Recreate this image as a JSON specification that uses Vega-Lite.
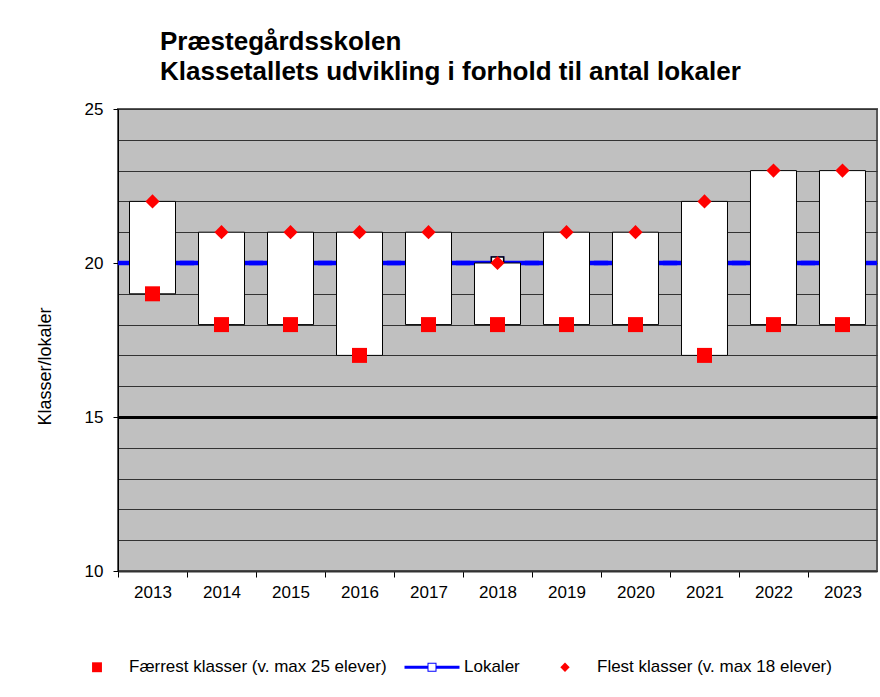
{
  "$schema": "https://vega.github.io/schema/vega-lite/v6.json",
  "width": 759,
  "height": 462,
  "autosize": {"type": "none"},
  "padding": {"left": 118, "top": 109, "right": 3, "bottom": 126},
  "background": "white",
  "datasets": {
    "ranges": [
      {"year": "2013", "faerrest": 19, "flest": 22},
      {"year": "2014", "faerrest": 18, "flest": 21},
      {"year": "2015", "faerrest": 18, "flest": 21},
      {"year": "2016", "faerrest": 17, "flest": 21},
      {"year": "2017", "faerrest": 18, "flest": 21},
      {"year": "2018", "faerrest": 18, "flest": 20},
      {"year": "2019", "faerrest": 18, "flest": 21},
      {"year": "2020", "faerrest": 18, "flest": 21},
      {"year": "2021", "faerrest": 17, "flest": 22},
      {"year": "2022", "faerrest": 18, "flest": 23},
      {"year": "2023", "faerrest": 18, "flest": 23}
    ],
    "points": [
      {"year": "2013", "series": "Færrest klasser (v. max 25 elever)", "value": 19},
      {"year": "2014", "series": "Færrest klasser (v. max 25 elever)", "value": 18},
      {"year": "2015", "series": "Færrest klasser (v. max 25 elever)", "value": 18},
      {"year": "2016", "series": "Færrest klasser (v. max 25 elever)", "value": 17},
      {"year": "2017", "series": "Færrest klasser (v. max 25 elever)", "value": 18},
      {"year": "2018", "series": "Færrest klasser (v. max 25 elever)", "value": 18},
      {"year": "2019", "series": "Færrest klasser (v. max 25 elever)", "value": 18},
      {"year": "2020", "series": "Færrest klasser (v. max 25 elever)", "value": 18},
      {"year": "2021", "series": "Færrest klasser (v. max 25 elever)", "value": 17},
      {"year": "2022", "series": "Færrest klasser (v. max 25 elever)", "value": 18},
      {"year": "2023", "series": "Færrest klasser (v. max 25 elever)", "value": 18},
      {"year": "2013", "series": "Lokaler", "value": 20},
      {"year": "2014", "series": "Lokaler", "value": 20},
      {"year": "2015", "series": "Lokaler", "value": 20},
      {"year": "2016", "series": "Lokaler", "value": 20},
      {"year": "2017", "series": "Lokaler", "value": 20},
      {"year": "2018", "series": "Lokaler", "value": 20},
      {"year": "2019", "series": "Lokaler", "value": 20},
      {"year": "2020", "series": "Lokaler", "value": 20},
      {"year": "2021", "series": "Lokaler", "value": 20},
      {"year": "2022", "series": "Lokaler", "value": 20},
      {"year": "2023", "series": "Lokaler", "value": 20},
      {"year": "2013", "series": "Flest klasser (v. max 18 elever)", "value": 22},
      {"year": "2014", "series": "Flest klasser (v. max 18 elever)", "value": 21},
      {"year": "2015", "series": "Flest klasser (v. max 18 elever)", "value": 21},
      {"year": "2016", "series": "Flest klasser (v. max 18 elever)", "value": 21},
      {"year": "2017", "series": "Flest klasser (v. max 18 elever)", "value": 21},
      {"year": "2018", "series": "Flest klasser (v. max 18 elever)", "value": 20},
      {"year": "2019", "series": "Flest klasser (v. max 18 elever)", "value": 21},
      {"year": "2020", "series": "Flest klasser (v. max 18 elever)", "value": 21},
      {"year": "2021", "series": "Flest klasser (v. max 18 elever)", "value": 22},
      {"year": "2022", "series": "Flest klasser (v. max 18 elever)", "value": 23},
      {"year": "2023", "series": "Flest klasser (v. max 18 elever)", "value": 23}
    ]
  },
  "title": {
    "text": ["Præstegårdsskolen", "Klassetallets udvikling i forhold til antal lokaler"],
    "anchor": "start",
    "frame": "group",
    "dx": 42,
    "font": "Liberation Sans",
    "fontSize": 26,
    "fontWeight": "bold",
    "lineHeight": 30,
    "offset": 15,
    "color": "#000000"
  },
  "encoding": {
    "x": {
      "field": "year",
      "type": "ordinal",
      "scale": {"paddingInner": 0.3333, "paddingOuter": 0.1667},
      "axis": {
        "title": null,
        "labelAngle": 0,
        "labelFontSize": 17,
        "labelPadding": 7,
        "tickOffset": -34.5,
        "labelOffset": 34.5,
        "tickSize": 6,
        "tickColor": "#000000",
        "domainColor": "#333333",
        "domainWidth": 2,
        "grid": false
      }
    }
  },
  "layer": [
    {
      "data": {"name": "points"},
      "transform": [{"filter": "datum.series === 'Lokaler'"}],
      "mark": {"type": "point", "filled": true, "size": 6944, "opacity": 1, "strokeWidth": 0, "clip": true},
      "encoding": {
        "y": {
          "field": "value",
          "type": "quantitative",
          "title": "Klasser/lokaler",
          "scale": {"domain": [10, 25], "nice": false, "zero": false},
          "axis": {
            "values": [10, 11, 12, 13, 14, 15, 16, 17, 18, 19, 20, 21, 22, 23, 24, 25],
            "grid": true,
            "gridColor": {"condition": {"test": "datum.value === 15", "value": "#000000"}, "value": "#333333"},
            "gridWidth": {"condition": {"test": "datum.value === 15", "value": 3}, "value": 1},
            "tickOpacity": {"condition": {"test": "datum.value % 5 === 0", "value": 1}, "value": 0},
            "labelExpr": "datum.value % 5 === 0 ? datum.label : ''",
            "labelOverlap": false,
            "labelFontSize": 17,
            "labelPadding": 10,
            "tickSize": 5,
            "tickColor": "#000000",
            "domainColor": "#000000",
            "titleFontSize": 18,
            "titleFontWeight": "normal",
            "titleAngle": -90,
            "titleAlign": "center",
            "titleBaseline": "middle",
            "titleX": -73,
            "titleY": 257
          }
        },
        "shape": {
          "field": "series",
          "type": "nominal",
          "scale": {
            "domain": ["Færrest klasser (v. max 25 elever)", "Lokaler", "Flest klasser (v. max 18 elever)"],
            "range": [
              "M-0.18,-0.18H0.18V0.18H-0.18Z",
              "M-1,-0.055H-0.164V0.055H-1Z M0.164,-0.055H1V0.055H0.164Z M-0.164,-0.164H0.164V0.164H-0.164Z M-0.127,-0.127V0.127H0.127V-0.127Z",
              "M0,-0.17L0.17,0L0,0.17L-0.17,0Z"
            ]
          },
          "legend": {"title": null}
        },
        "fill": {
          "field": "series",
          "type": "nominal",
          "scale": {
            "domain": ["Færrest klasser (v. max 25 elever)", "Lokaler", "Flest klasser (v. max 18 elever)"],
            "range": ["#FF0000", "#0000FF", "#FF0000"]
          },
          "legend": {"title": null}
        }
      }
    },
    {
      "data": {"name": "points"},
      "transform": [{"filter": "datum.series === 'Lokaler'"}],
      "mark": {"type": "point", "shape": "square", "filled": true, "fill": "#FFFFFF", "stroke": "#000000", "strokeWidth": 1.5, "size": 150, "opacity": 1},
      "encoding": {
        "y": {
          "field": "value",
          "type": "quantitative",
          "title": "Klasser/lokaler",
          "axis": {
            "values": [10, 11, 12, 13, 14, 15, 16, 17, 18, 19, 20, 21, 22, 23, 24, 25],
            "grid": true,
            "gridColor": {"condition": {"test": "datum.value === 15", "value": "#000000"}, "value": "#333333"},
            "gridWidth": {"condition": {"test": "datum.value === 15", "value": 3}, "value": 1},
            "tickOpacity": {"condition": {"test": "datum.value % 5 === 0", "value": 1}, "value": 0},
            "labelExpr": "datum.value % 5 === 0 ? datum.label : ''",
            "labelOverlap": false,
            "labelFontSize": 17,
            "labelPadding": 10,
            "tickSize": 5,
            "tickColor": "#000000",
            "domainColor": "#000000",
            "titleFontSize": 18,
            "titleFontWeight": "normal",
            "titleAngle": -90,
            "titleAlign": "center",
            "titleBaseline": "middle",
            "titleX": -73,
            "titleY": 257
          }
        }
      }
    },
    {
      "data": {"name": "ranges"},
      "mark": {"type": "bar", "fill": "#FFFFFF", "stroke": "#000000", "strokeWidth": 1},
      "encoding": {
        "y": {
          "field": "faerrest",
          "type": "quantitative",
          "title": "Klasser/lokaler",
          "axis": {
            "values": [10, 11, 12, 13, 14, 15, 16, 17, 18, 19, 20, 21, 22, 23, 24, 25],
            "grid": true,
            "gridColor": {"condition": {"test": "datum.value === 15", "value": "#000000"}, "value": "#333333"},
            "gridWidth": {"condition": {"test": "datum.value === 15", "value": 3}, "value": 1},
            "tickOpacity": {"condition": {"test": "datum.value % 5 === 0", "value": 1}, "value": 0},
            "labelExpr": "datum.value % 5 === 0 ? datum.label : ''",
            "labelOverlap": false,
            "labelFontSize": 17,
            "labelPadding": 10,
            "tickSize": 5,
            "tickColor": "#000000",
            "domainColor": "#000000",
            "titleFontSize": 18,
            "titleFontWeight": "normal",
            "titleAngle": -90,
            "titleAlign": "center",
            "titleBaseline": "middle",
            "titleX": -73,
            "titleY": 257
          }
        },
        "y2": {"field": "flest"}
      }
    },
    {
      "data": {"name": "points"},
      "transform": [{"filter": "datum.series !== 'Lokaler'"}],
      "mark": {"type": "point", "filled": true, "size": 6944, "opacity": 1, "strokeWidth": 0},
      "encoding": {
        "y": {
          "field": "value",
          "type": "quantitative",
          "title": "Klasser/lokaler",
          "axis": {
            "values": [10, 11, 12, 13, 14, 15, 16, 17, 18, 19, 20, 21, 22, 23, 24, 25],
            "grid": true,
            "gridColor": {"condition": {"test": "datum.value === 15", "value": "#000000"}, "value": "#333333"},
            "gridWidth": {"condition": {"test": "datum.value === 15", "value": 3}, "value": 1},
            "tickOpacity": {"condition": {"test": "datum.value % 5 === 0", "value": 1}, "value": 0},
            "labelExpr": "datum.value % 5 === 0 ? datum.label : ''",
            "labelOverlap": false,
            "labelFontSize": 17,
            "labelPadding": 10,
            "tickSize": 5,
            "tickColor": "#000000",
            "domainColor": "#000000",
            "titleFontSize": 18,
            "titleFontWeight": "normal",
            "titleAngle": -90,
            "titleAlign": "center",
            "titleBaseline": "middle",
            "titleX": -73,
            "titleY": 257
          }
        },
        "shape": {"field": "series", "type": "nominal", "legend": {"title": null}},
        "fill": {"field": "series", "type": "nominal", "legend": {"title": null}}
      }
    }
  ],
  "config": {
    "font": "Liberation Sans",
    "view": {"fill": "#C0C0C0", "stroke": "#595959", "strokeWidth": 2},
    "axis": {"labelColor": "#000000", "titleColor": "#000000", "labelFont": "Liberation Sans", "titleFont": "Liberation Sans"},
    "legend": {
      "orient": "none",
      "legendX": -48.5,
      "legendY": 530.5,
      "direction": "horizontal",
      "symbolSize": 3025,
      "symbolStrokeWidth": 0,
      "labelFontSize": 17,
      "labelFont": "Liberation Sans",
      "labelColor": "#000000",
      "labelOffset": 4.5,
      "labelLimit": 400,
      "columnPadding": 17,
      "padding": 0
    }
  }
}
